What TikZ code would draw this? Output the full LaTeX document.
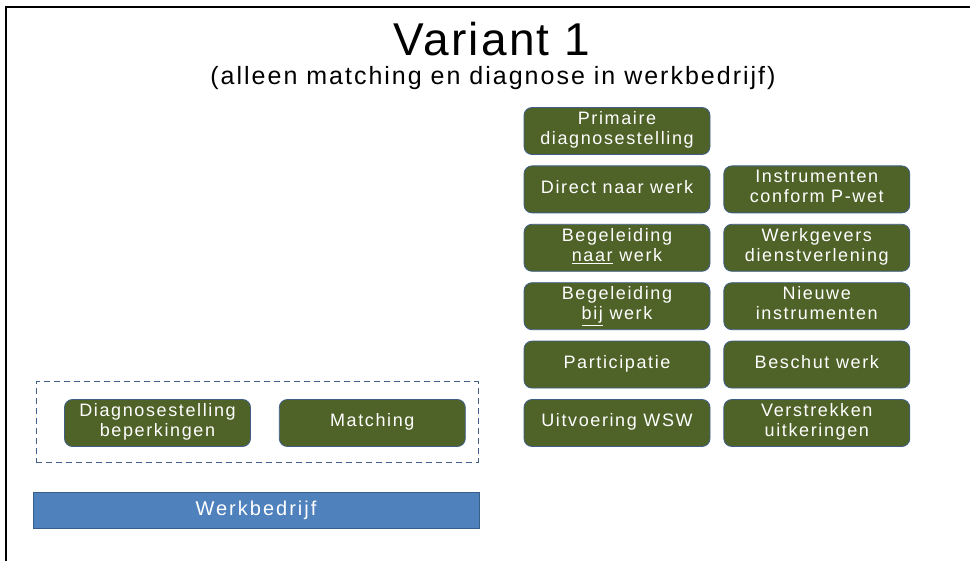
\documentclass[tikz,border=0pt]{standalone}
\usepackage{fontspec}
\setmainfont{Liberation Sans}
\usetikzlibrary{positioning}

\definecolor{olive}{HTML}{4F6228}
\definecolor{rim}{HTML}{3F5E88}
\definecolor{wbblue}{HTML}{4F81BD}
\definecolor{wbrim}{HTML}{385D8A}

\tikzset{
  taak/.style={draw=rim,line width=0.8pt,fill=olive,rounded corners=8pt,
    minimum width=186pt,minimum height=47pt,align=center,text=white,
    font=\fontsize{18}{20}\selectfont\addfontfeature{LetterSpace=9},inner sep=2pt,
    execute at begin node=\strut,execute at end node=\strut},
  bedrijf/.style={draw=wbrim,line width=0.8pt,fill=wbblue,minimum width=446pt,
    minimum height=36pt,text=white,font=\fontsize{20}{24}\selectfont\addfontfeature{LetterSpace=10}}
}

\begin{document}
\begin{tikzpicture}[x=1pt,y=-1pt,node distance=10.6pt and 13pt]
                    \useasboundingbox (0,0) rectangle (970,561);
                    \draw[line width=2pt] (6,561) -- (6,7) -- (970,7);
                    \node[font=\fontsize{46}{52}\selectfont\addfontfeature{LetterSpace=5}] (titel) at (492,39) {Variant 1};
                    \node[font=\fontsize{25}{30}\selectfont\addfontfeature{LetterSpace=8}] (sub) at (493,78) {(alleen matching en diagnose in werkbedrijf)};
                    \node[taak] (a1) at (617,131) {Primaire\\diagnosestelling};
                    \node[taak,below=of a1] (a2) {Direct naar werk};
                    \node[taak,below=of a2] (a3) {Begeleiding\\\underline{naar} werk};
                    \node[taak,below=of a3] (a4) {Begeleiding\\\underline{bij} werk};
                    \node[taak,below=of a4] (a5) {Participatie};
                    \node[taak,below=of a5] (a6) {Uitvoering WSW};
                    \node[taak,right=of a2] (b2) {Instrumenten\\conform P-wet};
                    \node[taak,right=of a3] (b3) {Werkgevers\\dienstverlening};
                    \node[taak,right=of a4] (b4) {Nieuwe\\instrumenten};
                    \node[taak,right=of a5] (b5) {Beschut werk};
                    \node[taak,right=of a6] (b6) {Verstrekken\\uitkeringen};
                    \node[draw=rim,dash pattern=on 6pt off 4pt,line width=1pt,minimum width=442pt,minimum height=80pt] (kader) at (257,422) {};
                    \node[taak] (c1) at (157.5,423) {Diagnosestelling\\beperkingen};
                    \node[taak,right=28pt of c1] (c2) {Matching};
                    \node[bedrijf] (wb) at (256,510) {Werkbedrijf};
                \end{tikzpicture}
\end{document}
